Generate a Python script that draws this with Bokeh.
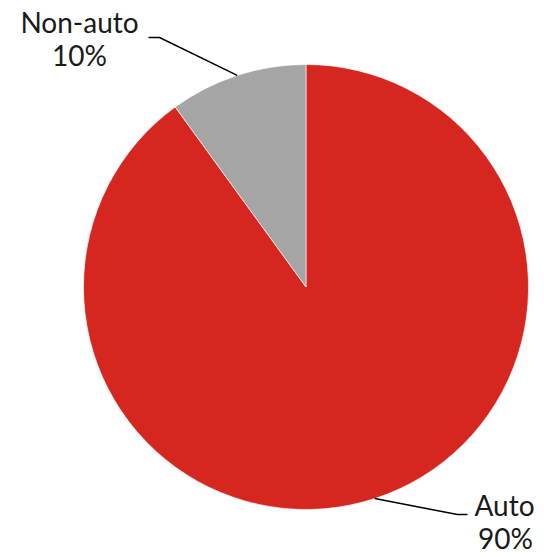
import numpy as np
from bokeh.plotting import figure
from bokeh.models import Range1d
from bokeh.core.properties import value
from bokeh.embed import file_html
from bokeh.resources import INLINE

categories = ["Auto", "Non-auto"]
values = [90, 10]
pct_labels = ["90%", "10%"]
colors = ["#D5261F", "#A5A5A5"]

W, H = 544, 557
p = figure(width=W, height=H, output_backend="svg", toolbar_location=None,
           x_range=Range1d(0, W), y_range=Range1d(0, H), min_border=0)
p.axis.visible = False
p.grid.visible = False
p.outline_line_color = None

def px(x):
    return x
def py(y):
    return H - y

cx, cy, r = px(305.5), py(286.5), 222.5
total = sum(values)
start = np.pi / 2
starts, ends, mids = [], [], []
for v in values:
    sweep = 2 * np.pi * v / total
    starts.append(start)
    ends.append(start - sweep)
    mids.append(start - sweep / 2)
    start -= sweep

p.wedge(x=[cx] * len(values), y=[cy] * len(values), radius=r,
        start_angle=starts, end_angle=ends, direction="clock",
        fill_color=colors, line_color="white", line_width=0.6)

font = value("Lato")
fs = "28px"
dy = 11
# Auto label (bottom right)
ax0, ay0 = cx + r * np.cos(mids[0]), cy + r * np.sin(mids[0])
p.line([ax0, px(457), px(467)], [ay0, py(514), py(514)], line_color="black", line_width=1.5)
p.text(x=[px(504)], y=[py(515 - dy)], text=[categories[0]], text_font=font, text_font_size=fs,
       text_align="center", text_baseline="alphabetic", text_color="#1a1a1a")
p.text(x=[px(505)], y=[py(548 - dy)], text=[pct_labels[0]], text_font=font, text_font_size=fs,
       text_align="center", text_baseline="alphabetic", text_color="#1a1a1a")

# Non-auto label (top left)
nx0, ny0 = cx + r * np.cos(mids[1]), cy + r * np.sin(mids[1])
p.line([nx0, px(159), px(148)], [ny0, py(37), py(37)], line_color="black", line_width=1.5)
p.text(x=[px(79)], y=[py(32 - dy)], text=[categories[1]], text_font=font, text_font_size=fs,
       text_align="center", text_baseline="alphabetic", text_color="#1a1a1a")
p.text(x=[px(79)], y=[py(65 - dy)], text=[pct_labels[1]], text_font=font, text_font_size=fs,
       text_align="center", text_baseline="alphabetic", text_color="#1a1a1a")

open("out.html", "w").write(file_html(p, INLINE))
